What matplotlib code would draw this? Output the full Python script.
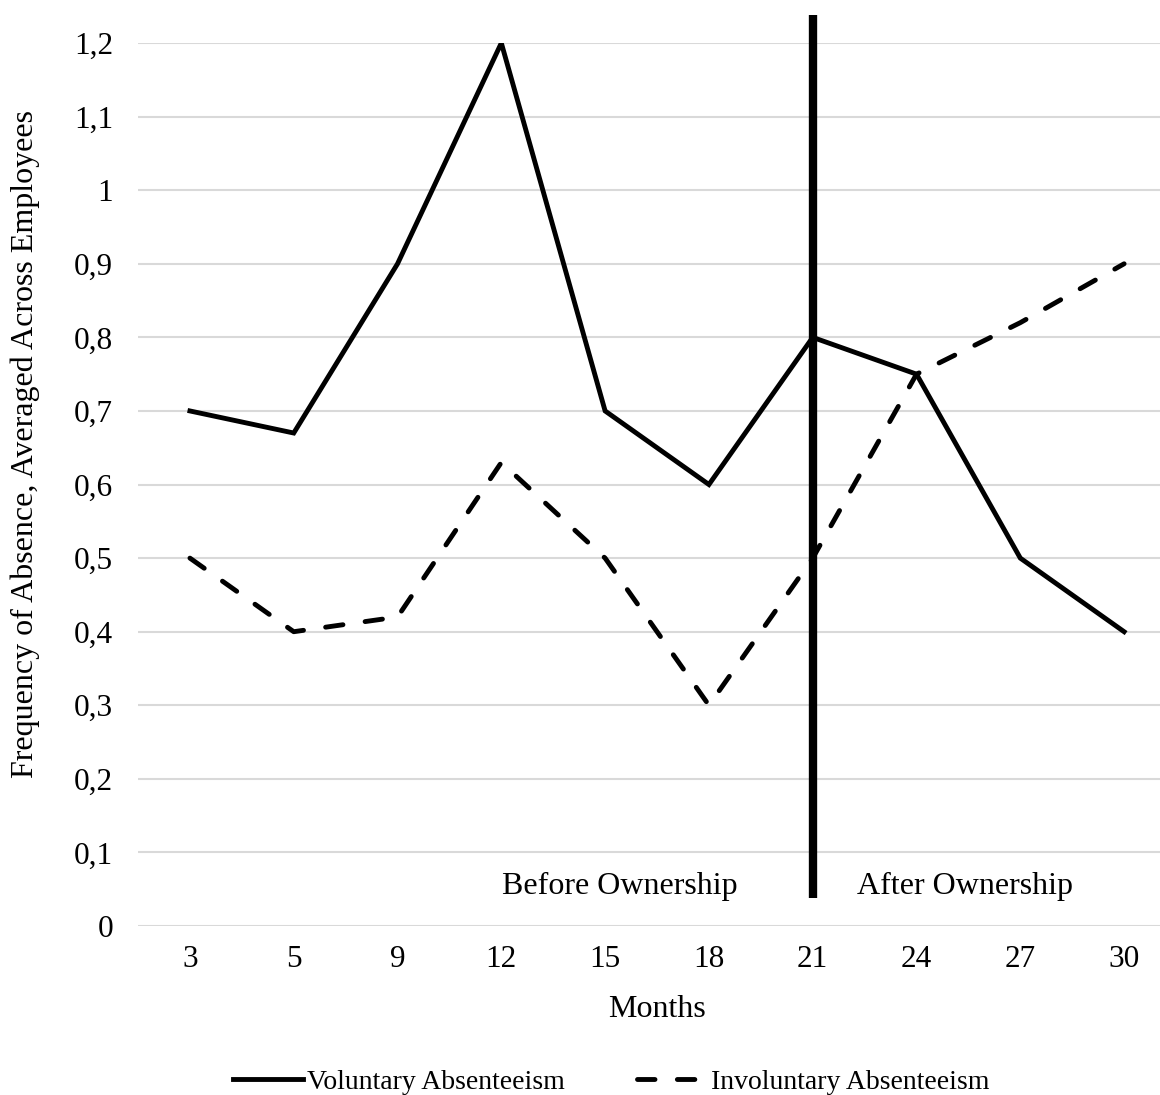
import numpy as np
import matplotlib.pyplot as plt

plt.rcParams['font.family'] = ['Liberation Serif', 'DejaVu Serif']

months = ["3", "5", "9", "12", "15", "18", "21", "24", "27", "30"]
voluntary = [0.70, 0.67, 0.90, 1.20, 0.70, 0.60, 0.80, 0.75, 0.50, 0.40]
involuntary = [0.50, 0.40, 0.42, 0.63, 0.50, 0.30, 0.50, 0.75, 0.82, 0.90]
y_ticks = [0.0, 0.1, 0.2, 0.3, 0.4, 0.5, 0.6, 0.7, 0.8, 0.9, 1.0, 1.1, 1.2]
split_month = "21"

x = np.arange(len(months))

fig = plt.figure(figsize=(11.6, 10.95), dpi=100)
ax = fig.add_axes([0.119, 0.1543, 0.8948, 0.8064])

ax.plot(x, voluntary, color="black", lw=3.5, solid_joinstyle="miter",
        label="Voluntary Absenteeism")
ax.plot(x, involuntary, color="black", lw=3.5, dashes=(3.6, 4.6),
        dash_capstyle="round", label="Involuntary Absenteeism")

# ownership change marker
xs = months.index(split_month)
ax.plot([xs, xs], [0.038, 1.238], color="black", lw=6, clip_on=False,
        solid_capstyle="butt")

ax.text(4.14, 0.054, "Before Ownership", ha="center", va="center", fontsize=23)
ax.text(7.47, 0.054, "After Ownership", ha="center", va="center", fontsize=23)

ax.set_xlim(-0.5, len(months) - 0.5)
ax.set_ylim(0, 1.2)
ax.set_xticks(x)
ax.set_xticklabels(months)
ax.set_yticks(y_ticks)
ax.set_yticklabels([f"{v:g}".replace(".", ",") for v in y_ticks])
ax.tick_params(length=0, labelsize=22.5)
ax.tick_params(axis="x", pad=14)
ax.tick_params(axis="y", pad=18)
ax.yaxis.grid(True, color="#d9d9d9", lw=1.5)
ax.set_axisbelow(True)
for s in ax.spines.values():
    s.set_visible(False)

ax.set_xlabel("Months", fontsize=23, labelpad=15)
ax.set_ylabel("Frequency of Absence, Averaged Across Employees", fontsize=23)
ax.yaxis.set_label_coords(-0.094, 0.546)

leg = fig.legend(loc="center", bbox_to_anchor=(0.527, 0.012), ncol=2,
                 frameon=False, fontsize=20, handlelength=2.5,
                 handletextpad=0.15, columnspacing=2.6)

fig.savefig("out.png", dpi=100)
